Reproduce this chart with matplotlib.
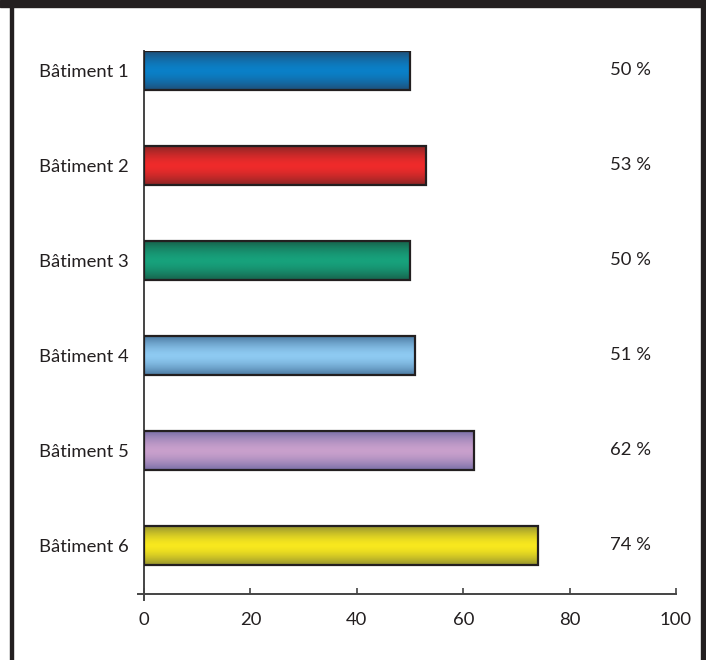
import numpy as np
import matplotlib.pyplot as plt
from matplotlib.colors import LinearSegmentedColormap
from matplotlib.patches import Rectangle
from matplotlib.lines import Line2D

plt.rcParams['font.family'] = ['Lato', 'DejaVu Sans']

buildings = ["Bâtiment 1", "Bâtiment 2", "Bâtiment 3", "Bâtiment 4", "Bâtiment 5", "Bâtiment 6"]
values = [50, 53, 50, 51, 62, 74]
value_labels = ["50 %", "53 %", "50 %", "51 %", "62 %", "74 %"]
# (edge shade, centre highlight) for the cylinder-like gradient
bar_colors = [
    ("#1f4f78", "#0a80c8"),
    ("#8c2626", "#ef2b2b"),
    ("#17624c", "#17a27c"),
    ("#4c7aa2", "#8ecaf2"),
    ("#7a70a8", "#c9a0cc"),
    ("#969430", "#f8e81e"),
]

W, H = 706, 660
fig = plt.figure(figsize=(W / 100, H / 100), dpi=100)
ax = fig.add_axes([144 / W, 1 - 594.3 / H, 532 / W, (594.3 - 51) / H])

fs = 13.3
bar_h = 0.41
grad = np.abs(np.linspace(-1, 1, 64)) ** 1.6
grad = grad.reshape(-1, 1)
for i, (v, (dark, light)) in enumerate(zip(values, bar_colors)):
    cmap = LinearSegmentedColormap.from_list("c%d" % i, [light, dark])
    ax.imshow(grad, cmap=cmap, aspect='auto', interpolation='bilinear',
              extent=[0, v, i + bar_h / 2, i - bar_h / 2], zorder=2)
    ax.add_patch(Rectangle((0, i - bar_h / 2), v, bar_h, fill=False,
                           edgecolor="#231f20", linewidth=1.6, zorder=3))
    ax.text(91.5, i, value_labels[i], ha='center', va='center', fontsize=fs, color="#231f20")

ax.set_xlim(0, 100)
ax.set_ylim(5.514, -0.205)
ax.set_yticks(range(len(buildings)))
ax.set_yticklabels(buildings, fontsize=fs, color="#231f20")
ax.tick_params(axis='y', length=0, pad=11)
ax.set_xticks([0, 20, 40, 60, 80, 100])
ax.tick_params(axis='x', direction='in', length=4, width=1.2, color="#444444",
               labelsize=fs, labelcolor="#231f20", pad=13)
for s in ['top', 'right']:
    ax.spines[s].set_visible(False)
for s in ['left', 'bottom']:
    ax.spines[s].set_color("#444444")
    ax.spines[s].set_linewidth(1.4)

# small overhangs where the axes cross
ax.add_line(Line2D([0, 0], [0, -0.011], transform=ax.transAxes, color="#444444",
                   lw=1.4, clip_on=False))
ax.add_line(Line2D([-0.011, 0], [0, 0], transform=ax.transAxes, color="#444444",
                   lw=1.4, clip_on=False))

# frame: black band at top, thick side borders
frame = "#231f20"
fig.patches.append(Rectangle((0, 1 - 7 / H), 1, 7 / H, transform=fig.transFigure,
                             color=frame, zorder=10))
fig.patches.append(Rectangle((10 / W, 0), 3 / W, 1, transform=fig.transFigure,
                             color=frame, zorder=10))
fig.patches.append(Rectangle((701 / W, 0), 5 / W, 1, transform=fig.transFigure,
                             color=frame, zorder=10))

fig.savefig("out.png", dpi=100)
